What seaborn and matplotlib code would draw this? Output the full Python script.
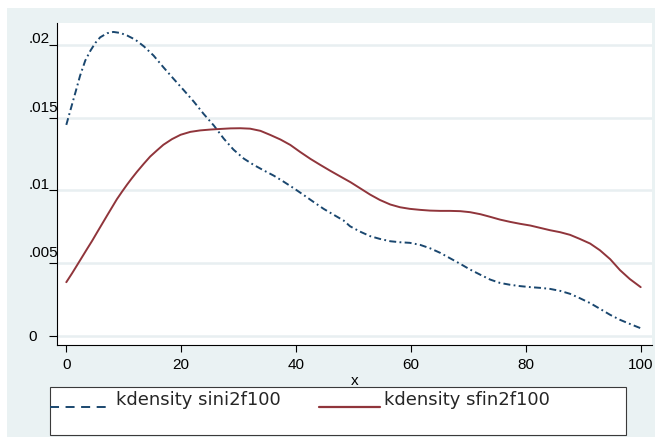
import numpy as np
import pandas as pd
import matplotlib
matplotlib.use("Agg")
import matplotlib.pyplot as plt
from matplotlib.lines import Line2D
from matplotlib.patches import Rectangle
from matplotlib.legend_handler import HandlerLine2D
from matplotlib.transforms import ScaledTranslation
import seaborn as sns

sns.set_theme(style="white")
plt.rcParams["font.family"] = ["Liberation Sans", "DejaVu Sans"]
plt.rcParams["lines.scale_dashes"] = False

# Kernel density estimates evaluated on a grid over 0..100
x_sini = [0, 0.7, 1.6, 2.4, 3.3, 4.2, 5.05, 5.9, 7.1, 8.2, 9.4, 10.6, 12.0, 13.5,
          15.2, 16.9, 18.7, 20.4, 22.2, 23.9, 25.7, 27.4, 29.1, 30.9, 32.6, 34.4,
          36.1, 37.8, 39.6, 41.3, 43.1, 44.8, 46.6, 48.3, 49.4, 51.1, 52.9, 54.6,
          56.4, 58.1, 59.8, 61.6, 63.3, 65.1, 66.8, 68.6, 70.3, 72.1, 73.8, 75.5,
          77.3, 79.0, 80.8, 82.5, 84.2, 86.0, 87.7, 89.4, 91.2, 92.9, 94.7, 96.4,
          98.1, 100.0]
d_sini = [0.01450, 0.01549, 0.01675, 0.01789, 0.01893, 0.01961, 0.02014, 0.02053,
          0.02081, 0.02090, 0.02083, 0.02065, 0.02037, 0.01991, 0.01927, 0.01847,
          0.01766, 0.01691, 0.01610, 0.01526, 0.01445, 0.01356, 0.01280, 0.01218,
          0.01175, 0.01136, 0.01101, 0.01060, 0.01014, 0.00968, 0.00918, 0.00872,
          0.00830, 0.00791, 0.00752, 0.00716, 0.00684, 0.00665, 0.00649, 0.00642,
          0.00638, 0.00624, 0.00601, 0.00569, 0.00532, 0.00493, 0.00454, 0.00418,
          0.00385, 0.00362, 0.00349, 0.00340, 0.00333, 0.00328, 0.00321, 0.00307,
          0.00287, 0.00257, 0.00223, 0.00184, 0.00142, 0.00108, 0.00080, 0.00050]

x_sfin = [0, 1.0, 1.86, 2.7, 3.6, 4.5, 5.3, 6.2, 7.1, 7.95, 8.8, 9.7, 10.6, 11.4,
          12.3, 13.5, 14.6, 15.8, 16.9, 18.4, 19.9, 21.6, 23.3, 25.1, 26.8, 28.6,
          30.3, 32.0, 33.8, 35.5, 37.3, 39.0, 40.7, 42.5, 44.2, 46.0, 47.7, 49.5,
          51.1, 52.9, 54.6, 56.4, 58.1, 59.8, 61.6, 63.3, 65.1, 66.8, 68.6, 70.3,
          72.1, 73.8, 75.5, 77.3, 79.0, 80.8, 82.5, 84.2, 86.0, 87.7, 89.4, 91.2,
          92.9, 94.7, 96.4, 98.1, 100.0]
d_sfin = [0.00367, 0.00428, 0.00483, 0.00537, 0.00595, 0.00652, 0.00706, 0.00766,
          0.00826, 0.00882, 0.00938, 0.00990, 0.01040, 0.01082, 0.01127, 0.01183,
          0.01232, 0.01275, 0.01313, 0.01352, 0.01382, 0.01402, 0.01412, 0.01418,
          0.01422, 0.01426, 0.01427, 0.01424, 0.01409, 0.01381, 0.01349, 0.01312,
          0.01264, 0.01216, 0.01175, 0.01133, 0.01095, 0.01055, 0.01015, 0.00970,
          0.00933, 0.00902, 0.00883, 0.00872, 0.00865, 0.00860, 0.00858, 0.00858,
          0.00856, 0.00849, 0.00835, 0.00817, 0.00798, 0.00782, 0.00769, 0.00757,
          0.00741, 0.00725, 0.00711, 0.00693, 0.00665, 0.00633, 0.00587, 0.00525,
          0.00450, 0.00389, 0.00333]

x_ticks = [0, 20, 40, 60, 80, 100]
y_ticks = [0, 0.005, 0.01, 0.015, 0.02]
y_tick_labels = ["0", ".005", ".01", ".015", ".02"]
series_labels = ["kdensity sini2f100", "kdensity sfin2f100"]
x_title = "x"

NAVY = "#1A476F"
MAROON = "#90353B"
BG = "#EAF2F3"
GRID = "#E8EFF1"

W, H = 655, 437
fig = plt.figure(figsize=(W / 100, H / 100), dpi=100, facecolor="white")

# Stata-style outer region
fig.patches.append(Rectangle((7 / W, 0), 1 - 7 / W, 1 - 8 / H,
                             transform=fig.transFigure, facecolor=BG,
                             edgecolor="none", zorder=-10))

ax = fig.add_axes([57 / W, 1 - 345 / H, (652 - 57) / W, (345 - 23) / H])
ax.set_facecolor("white")

df_sini = pd.DataFrame({"x": x_sini, "density": d_sini})
df_sfin = pd.DataFrame({"x": x_sfin, "density": d_sfin})

sns.lineplot(data=df_sini, x="x", y="density", color=NAVY, lw=1.4,
             linestyle=(0, (5.0, 2.4, 1.3, 2.4)), ax=ax)
sns.lineplot(data=df_sfin, x="x", y="density", color=MAROON, lw=1.4, ax=ax)

ax.set_xlim(-1.62, 101.97)
ax.set_ylim(-0.000654, 0.021515)

ax.yaxis.grid(True, color=GRID, lw=1.8)
ax.xaxis.grid(False)
ax.set_axisbelow(True)

for side in ("top", "right"):
    ax.spines[side].set_visible(False)
for side in ("left", "bottom"):
    ax.spines[side].set_color("black")
    ax.spines[side].set_linewidth(0.8)

ax.tick_params(axis="y", direction="out", length=5.8, width=0.8, color="black",
               labelsize=11, pad=14.7, left=True)
ax.tick_params(axis="x", direction="out", length=5.0, width=0.8, color="black",
               labelsize=11, pad=4.5, bottom=True)
ax.set_xticks(x_ticks)
ax.set_yticks(y_ticks, y_tick_labels, ha="left")
ax.set_xlabel(x_title, fontsize=11, labelpad=1.5, color="black")
ax.set_ylabel("")
for lab in ax.get_xticklabels() + ax.get_yticklabels():
    lab.set_color("black")

# y labels sit slightly above their ticks
label_lift_px = [0, 11, 7, 11, 7.5]
for tick, lift in zip(ax.yaxis.get_major_ticks(), label_lift_px):
    tick.label1.set_transform(tick.label1.get_transform()
                              + ScaledTranslation(0, lift / 100, fig.dpi_scale_trans))


class DroppedLine(HandlerLine2D):
    """Legend line drawn a little below the text row."""

    def __init__(self, drop, **kw):
        super().__init__(**kw)
        self.drop = drop

    def create_artists(self, legend, orig_handle, xdescent, ydescent, width,
                       height, fontsize, trans):
        artists = super().create_artists(legend, orig_handle, xdescent, ydescent,
                                         width, height, fontsize, trans)
        for a in artists:
            a.set_ydata(np.asarray(a.get_ydata(), float) - self.drop)
        return artists


# legend frame
fig.patches.append(Rectangle((50 / W, 1 - 435 / H), 576 / W, 48 / H,
                             transform=fig.transFigure, facecolor="white",
                             edgecolor="#3a3a3a", lw=0.8, zorder=1))

h_sini = Line2D([], [], color=NAVY, lw=1.4, linestyle=(0, (6.5, 4.7)))
h_sfin = Line2D([], [], color=MAROON, lw=1.6)
fig.legend([h_sini, h_sfin], series_labels, loc="upper left",
           bbox_to_anchor=(50 / W, 1 - 391 / H), bbox_transform=fig.transFigure,
           ncol=2, frameon=False, borderpad=0, borderaxespad=0,
           handlelength=3.4, handletextpad=0.25, columnspacing=2.1,
           prop={"family": "DejaVu Sans", "size": 13},
           handler_map={h_sini: DroppedLine(6.1), h_sfin: DroppedLine(6.1)})

fig.savefig("out.png", dpi=100, facecolor="white")
